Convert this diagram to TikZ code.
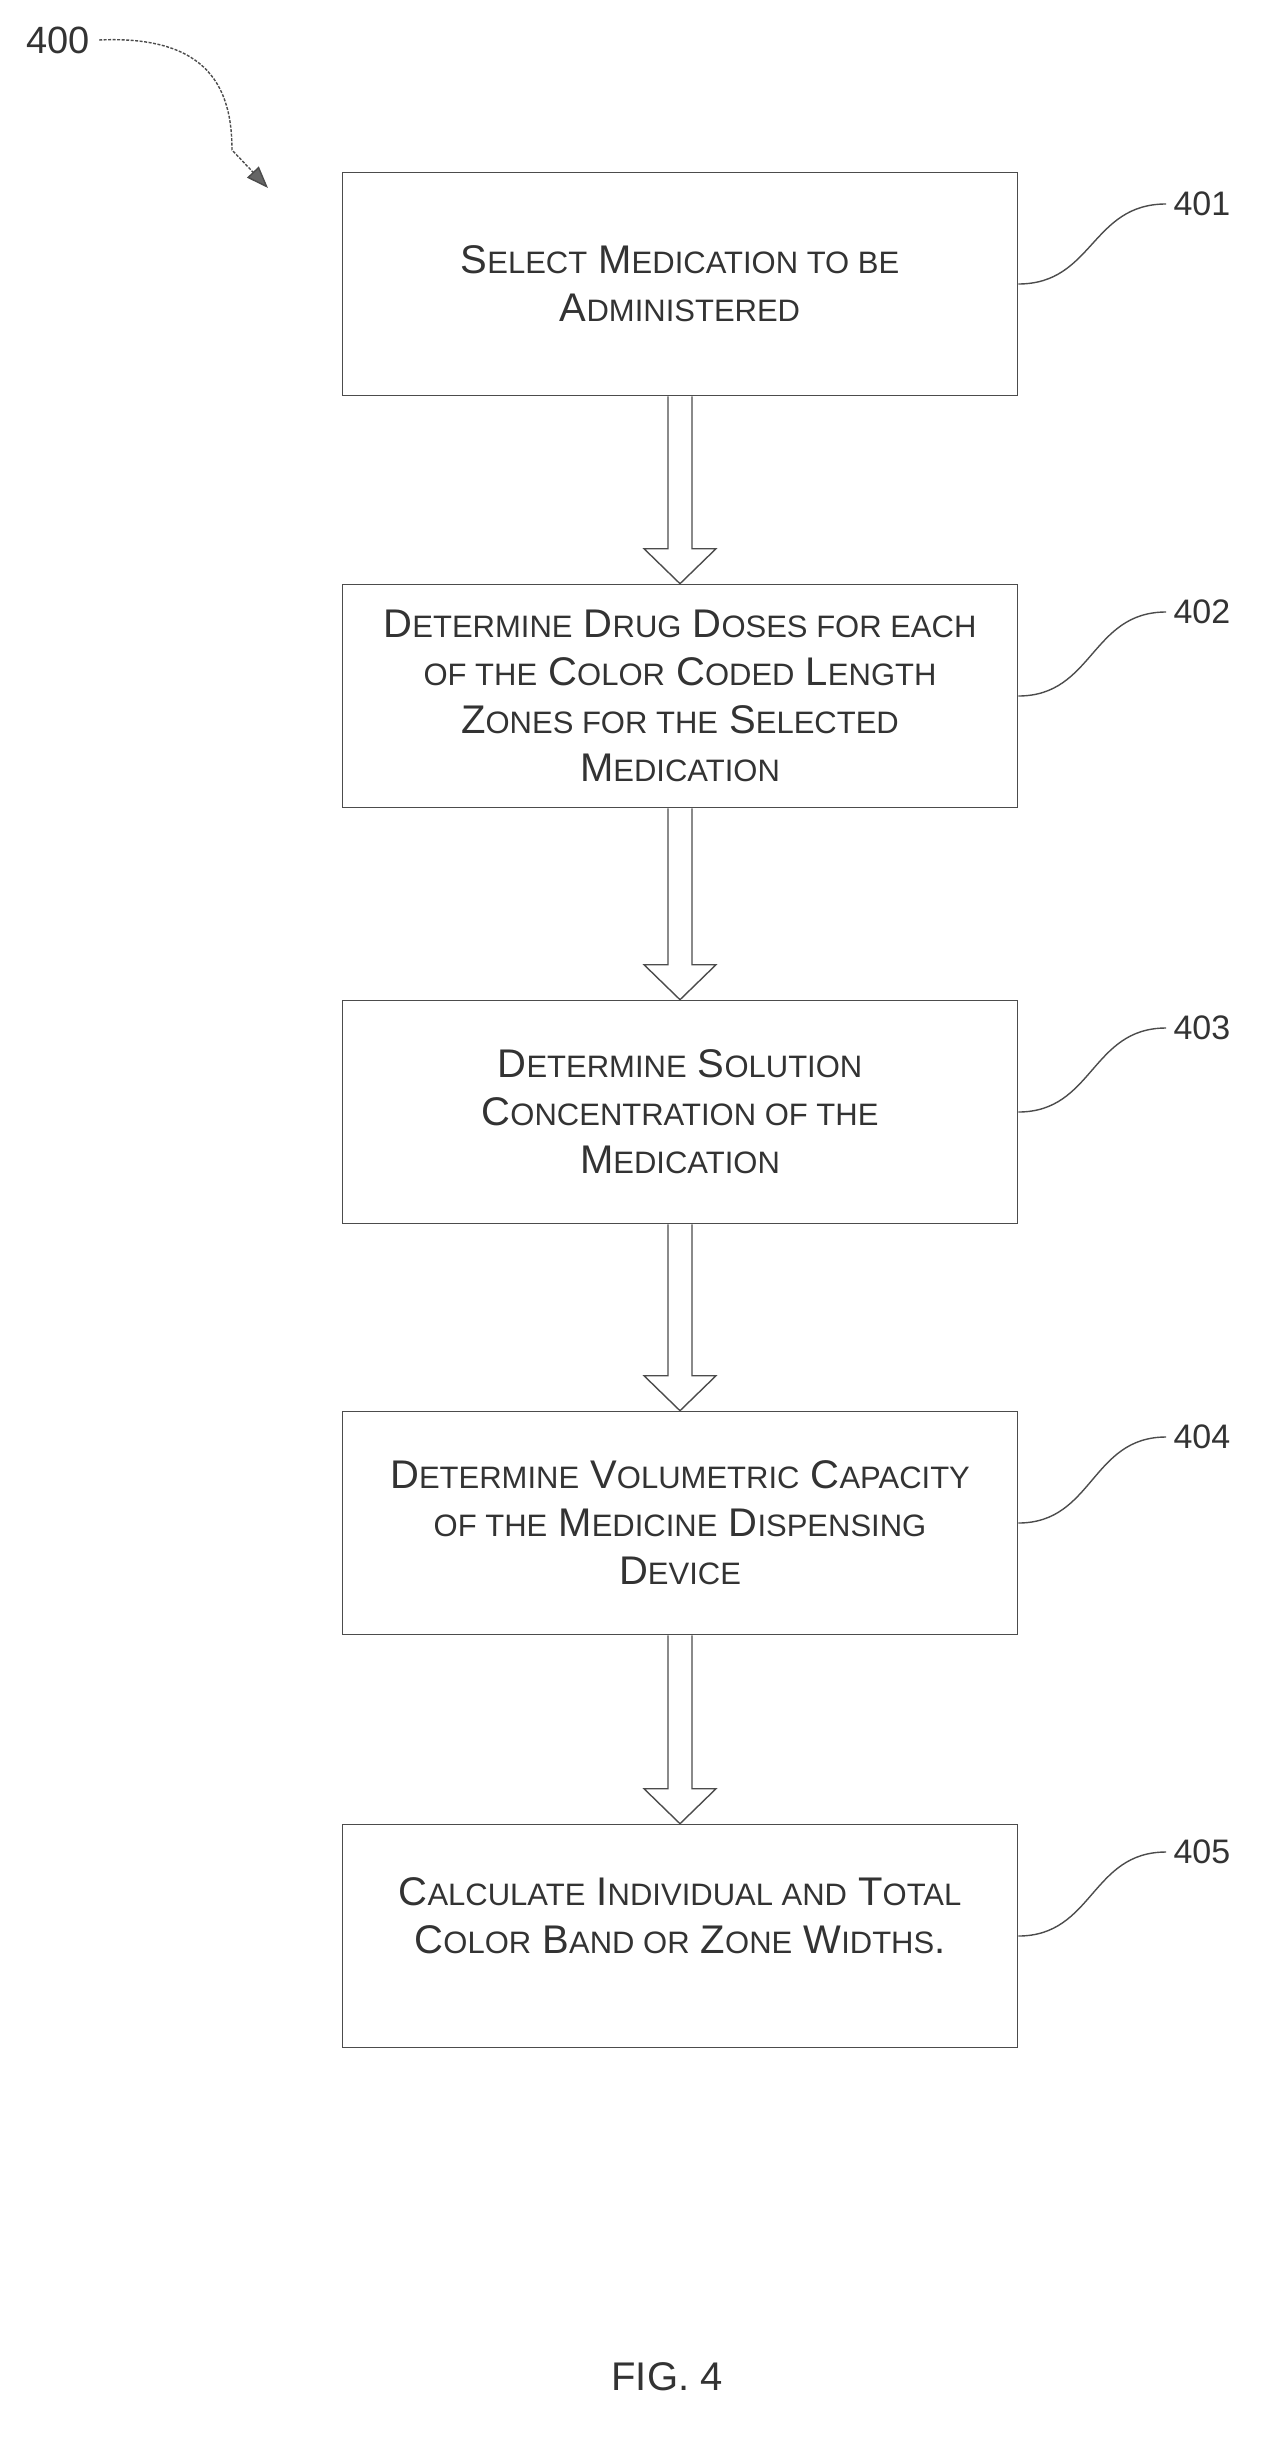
\documentclass[tikz,border=0pt]{standalone}
\usepackage{fontspec}
\setmainfont{Liberation Sans}
\usetikzlibrary{calc,arrows.meta}
\newcommand{\Sc}[1]{{\fontsize{31}{48}\selectfont #1}}
\begin{document}
\begin{tikzpicture}[x=1pt,y=-1pt,
  box/.style={draw=black!70,line width=1.6pt,minimum width=675pt,minimum height=223pt,align=center,font=\fontsize{40}{48}\selectfont,text=black!80},
  hollow/.style={draw=black!70,line width=1.4pt,fill=white},
  lead/.style={draw=black!70,line width=1.4pt},
  num/.style={font=\fontsize{34}{40}\selectfont,text=black!80}]
\useasboundingbox (0,0) rectangle (1265,2448);
\node[box] (b1) at (680,284) {S\Sc{ELECT} M\Sc{EDICATION TO BE}\\A\Sc{DMINISTERED}};
\node[box] (b2) at (680,696) {D\Sc{ETERMINE} D\Sc{RUG} D\Sc{OSES FOR EACH}\\\Sc{OF THE} C\Sc{OLOR} C\Sc{ODED} L\Sc{ENGTH}\\Z\Sc{ONES FOR THE} S\Sc{ELECTED}\\M\Sc{EDICATION}};
\node[box] (b3) at (680,1112) {D\Sc{ETERMINE} S\Sc{OLUTION}\\C\Sc{ONCENTRATION OF THE}\\M\Sc{EDICATION}};
\node[box] (b4) at (680,1523) {D\Sc{ETERMINE} V\Sc{OLUMETRIC} C\Sc{APACITY}\\\Sc{OF THE} M\Sc{EDICINE} D\Sc{ISPENSING}\\D\Sc{EVICE}};
\node[box,text depth=40pt] (b5) at (680,1936) {C\Sc{ALCULATE} I\Sc{NDIVIDUAL AND} T\Sc{OTAL}\\C\Sc{OLOR} B\Sc{AND OR} Z\Sc{ONE} W\Sc{IDTHS}.};
\foreach \a/\b in {b1/b2,b2/b3,b3/b4,b4/b5}{
  \draw[hollow] ($(\a.south)+(-12,0)$) -- ($(\b.north)+(-12,-35)$) -- ++(-24,0) -- (\b.north) -- ($(\b.north)+(36,-35)$) -- ++(-24,0) -- ($(\a.south)+(12,0)$);
}
\foreach \i/\y in {1/204,2/612,3/1028,4/1437,5/1852}{
  \node[num,anchor=west] (n\i) at (1170,\y) {40\i};
  \draw[lead] (b\i.east) .. controls ++(75,0) and ++(-75,0) .. ([xshift=-4pt]n\i.west);
}
\node[num,font=\fontsize{38}{44}\selectfont] (n0) at (58,40) {400};
\coordinate (t0) at (268,188);
\draw[lead,dash pattern=on 3pt off 1.5pt,-{Triangle[length=22pt,width=16pt,fill=black!60]}] ([xshift=6pt]n0.east) .. controls (210,35) and (232,90) .. (232,150) -- (t0);
\node[font=\fontsize{40}{46}\selectfont,text=black!80] (fig) at (667,2377) {FIG. 4};
\end{tikzpicture}
\end{document}
